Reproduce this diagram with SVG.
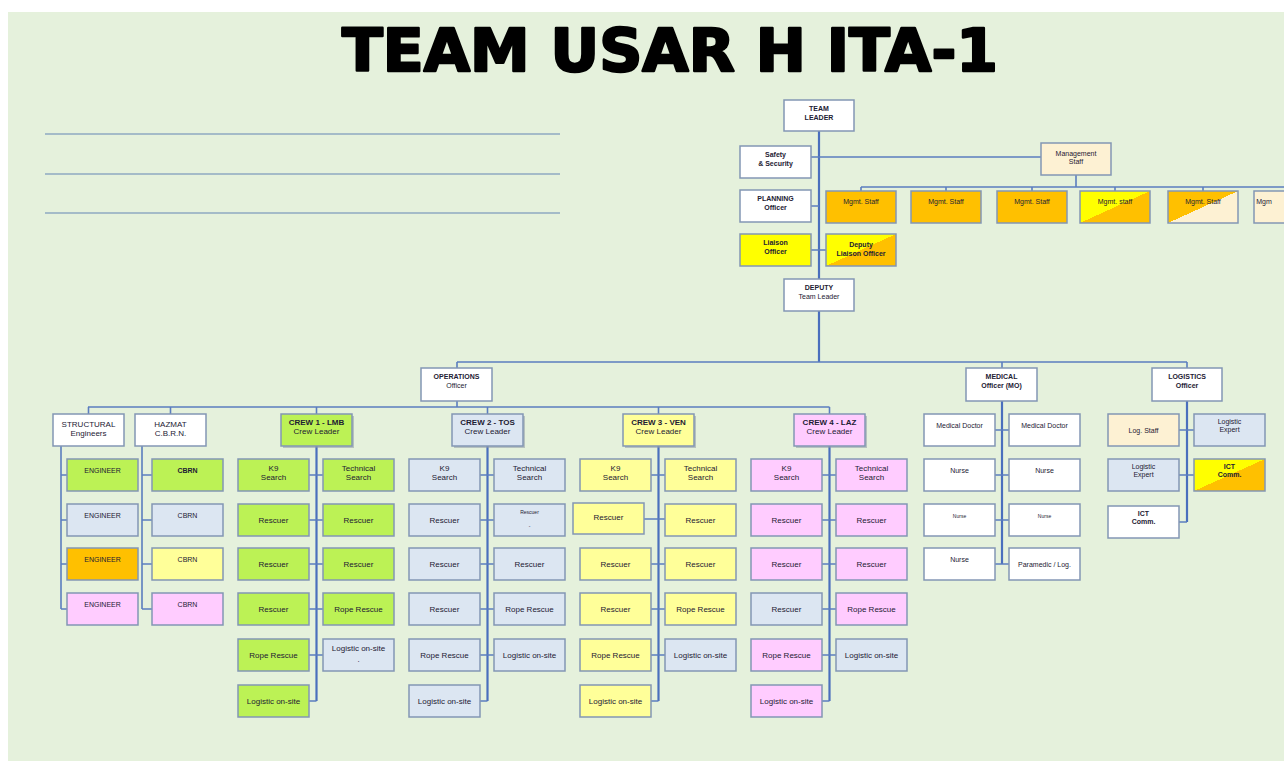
<svg xmlns="http://www.w3.org/2000/svg" width="1284" height="761" viewBox="0 0 1284 761">
  <defs>
    <style>
      .bx { stroke: #8396b4; stroke-width: 1.5; }
      .w { fill: #ffffff; }
      .g { fill: #bcf255; }
      .lb { fill: #dce6f2; }
      .ly { fill: #ffff99; }
      .pk { fill: #ffccff; }
      .or { fill: #ffc000; }
      .ye { fill: #ffff00; }
      .cr { fill: #fdf1d3; }
      .dyo { fill: url(#diagYO); }
      .doc { fill: url(#diagOC); }
      .sh { fill: #8f99a8; opacity: 0.55; }
      text { font-family: "Liberation Sans", Arial, sans-serif; font-size: 8px; fill: #1d2033; text-anchor: middle; }
      .h { font-weight: bold; }
      .s { font-size: 7px; }
      .xs { font-size: 5px; }
      .title { font-family: "DejaVu Sans", "Liberation Sans", sans-serif; font-size: 58px; font-weight: bold; fill: #000; stroke: #000; stroke-width: 2.4; stroke-linejoin: round; text-anchor: middle; }
      .ln { fill: none; stroke: #5b7dbf; stroke-width: 1.6; }
      .tr { fill: none; stroke: #4a6fbd; stroke-width: 2.2; }
      .rule { stroke: #8ea8c2; stroke-width: 1.5; }
    </style>
    <!-- split fills: upper-left colour / lower-right colour along the rising diagonal -->
    <linearGradient id="diagYO" x1="0" y1="0" x2="1" y2="1">
      <stop offset="0.5" stop-color="#ffff00"/>
      <stop offset="0.5" stop-color="#ffc000"/>
    </linearGradient>
    <linearGradient id="diagOC" x1="0" y1="0" x2="1" y2="1">
      <stop offset="0.5" stop-color="#ffc000"/>
      <stop offset="0.5" stop-color="#fdf1d3"/>
    </linearGradient>
  </defs>

  <!-- page -->
  <rect x="0" y="0" width="1284" height="761" fill="#ffffff"/>
  <rect x="8" y="12" width="1276" height="749" fill="#e5f1dc"/>

  <text class="title" x="670" y="71" textLength="656" lengthAdjust="spacingAndGlyphs">TEAM USAR H ITA-1</text>

  <!-- blank ruled lines -->
  <g id="rules">
    <line class="rule" x1="45" y1="134" x2="560" y2="134"/>
    <line class="rule" x1="45" y1="174" x2="560" y2="174"/>
    <line class="rule" x1="45" y1="213" x2="560" y2="213"/>
  </g>

  <!-- connectors -->
  <g id="connectors">
    <!-- command trunk -->
    <path class="tr" d="M819,131 V279 M819,311 V362"/>
    <path class="ln" d="M811,157 H1041 M811,206 H819 M811,250 H826"/>
    <!-- management staff bar -->
    <path class="ln" d="M1076,175 V187 M861,187 H1284 M861,187 V191 M946,187 V191 M1032,187 V191 M1115,187 V191 M1203,187 V191"/>
    <!-- officers bar -->
    <path class="ln" d="M457,362 H1187 M457,362 V368 M1002,362 V368 M1187,362 V368"/>
    <!-- operations bar -->
    <path class="ln" d="M457,401 V407 M88,407 H829.5 M88.5,407 V414 M170.5,407 V414 M316.5,407 V414 M487.5,407 V414 M658.5,407 V414 M829.5,407 V414"/>
    <!-- structural / hazmat -->
    <path class="ln" d="M61,446 V609 M61,475 H67 M61,520 H67 M61,564 H67 M61,609 H67"/>
    <path class="ln" d="M142,446 V609 M142,475 H152 M142,520 H152 M142,564 H152 M142,609 H152"/>
    <!-- crews -->
    <path class="tr" d="M316.5,446 V701 M487.5,446 V701 M658.5,446 V701 M829.5,446 V701"/>
    <path class="ln" d="M309,475 H323 M309,520 H323 M309,564 H323 M309,609 H323 M309,655 H323 M309,701 H316.5"/>
    <path class="ln" d="M480,475 H494 M480,520 H494 M480,564 H494 M480,609 H494 M480,655 H494 M480,701 H487.5"/>
    <path class="ln" d="M644,519 H665 M651,475 H665 M651,564 H665 M651,609 H665 M651,655 H665 M651,701 H658.5"/>
    <path class="ln" d="M822,475 H836 M822,520 H836 M822,564 H836 M822,609 H836 M822,655 H836 M822,701 H829.5"/>
    <!-- medical -->
    <path class="tr" d="M1002,401 V564"/>
    <path class="ln" d="M995,430 H1009 M995,475 H1009 M995,520 H1009 M995,564 H1009"/>
    <!-- logistics -->
    <path class="tr" d="M1187,401 V522"/>
    <path class="ln" d="M1179,430 H1194 M1179,475 H1194 M1179,522 H1187"/>
  </g>

  <!-- command -->
  <g id="team-leader"><rect class="bx w" x="784" y="100" width="70" height="31"/><text class="h s" x="819" y="111">TEAM</text><text class="h s" x="819" y="120">LEADER</text></g>
  <g id="safety"><rect class="bx w" x="740" y="146" width="71" height="32"/><text class="h s" x="775.5" y="157">Safety</text><text class="h s" x="775.5" y="166">&amp; Security</text></g>
  <g id="management-staff"><rect class="bx cr" x="1041" y="143" width="70" height="32"/><text class="s" x="1076" y="156">Management</text><text class="s" x="1076" y="164">Staff</text></g>
  <g id="planning"><rect class="bx w" x="740" y="190" width="71" height="32"/><text class="h s" x="775.5" y="201">PLANNING</text><text class="h s" x="775.5" y="210">Officer</text></g>
  <g id="liaison"><rect class="bx ye" x="740" y="234" width="71" height="32"/><text class="h s" x="775.5" y="245">Liaison</text><text class="h s" x="775.5" y="254">Officer</text></g>
  <g id="deputy-liaison"><rect class="bx dyo" x="826" y="234" width="70" height="32"/><text class="h s" x="861" y="247">Deputy</text><text class="h s" x="861" y="256">Liaison Officer</text></g>
  <g id="deputy-leader"><rect class="bx w" x="784" y="279" width="70" height="32"/><text class="h s" x="819" y="290">DEPUTY</text><text class="s" x="819" y="299">Team Leader</text></g>

  <!-- management staff row -->
  <g id="mgmt-1"><rect class="bx or" x="826" y="191" width="70" height="32"/><text class="s" x="861" y="204">Mgmt. Staff</text></g>
  <g id="mgmt-2"><rect class="bx or" x="911" y="191" width="70" height="32"/><text class="s" x="946" y="204">Mgmt. Staff</text></g>
  <g id="mgmt-3"><rect class="bx or" x="997" y="191" width="70" height="32"/><text class="s" x="1032" y="204">Mgmt. Staff</text></g>
  <g id="mgmt-4"><rect class="bx dyo" x="1080" y="191" width="70" height="32"/><text class="s" x="1115" y="204">Mgmt. staff</text></g>
  <g id="mgmt-5"><rect class="bx doc" x="1168" y="191" width="70" height="32"/><text class="s" x="1203" y="204">Mgmt. Staff</text></g>
  <g id="mgmt-6"><rect class="bx cr" x="1254" y="191" width="70" height="32"/><text class="s" x="1264" y="204" text-anchor="start">Mgm</text></g>

  <!-- officers -->
  <g id="operations"><rect class="bx w" x="421" y="368" width="71" height="33"/><text class="h s" x="456.5" y="379">OPERATIONS</text><text class="s" x="456.5" y="388">Officer</text></g>
  <g id="medical"><rect class="bx w" x="966" y="368" width="71" height="33"/><text class="h s" x="1001.5" y="379">MEDICAL</text><text class="h s" x="1001.5" y="388">Officer (MO)</text></g>
  <g id="logistics"><rect class="bx w" x="1152" y="368" width="70" height="33"/><text class="h s" x="1187" y="379">LOGISTICS</text><text class="h s" x="1187" y="388">Officer</text></g>

  <!-- specialists -->
  <g id="structural"><rect class="bx w" x="53" y="414" width="71" height="32"/><text x="88.5" y="427">STRUCTURAL</text><text x="88.5" y="436">Engineers</text></g>
  <g id="hazmat"><rect class="bx w" x="135" y="414" width="71" height="32"/><text x="170.5" y="427">HAZMAT</text><text x="170.5" y="436">C.B.R.N.</text></g>
  <g id="engineer-1"><rect class="bx g" x="67" y="459" width="71" height="32"/><text class="s" x="102.5" y="473">ENGINEER</text></g>
  <g id="engineer-2"><rect class="bx lb" x="67" y="504" width="71" height="32"/><text class="s" x="102.5" y="518">ENGINEER</text></g>
  <g id="engineer-3"><rect class="bx or" x="67" y="548" width="71" height="32"/><text class="s" x="102.5" y="562">ENGINEER</text></g>
  <g id="engineer-4"><rect class="bx pk" x="67" y="593" width="71" height="32"/><text class="s" x="102.5" y="607">ENGINEER</text></g>
  <g id="cbrn-1"><rect class="bx g" x="152" y="459" width="71" height="32"/><text class="s h" x="187.5" y="473">CBRN</text></g>
  <g id="cbrn-2"><rect class="bx lb" x="152" y="504" width="71" height="32"/><text class="s" x="187.5" y="518">CBRN</text></g>
  <g id="cbrn-3"><rect class="bx ly" x="152" y="548" width="71" height="32"/><text class="s" x="187.5" y="562">CBRN</text></g>
  <g id="cbrn-4"><rect class="bx pk" x="152" y="593" width="71" height="32"/><text class="s" x="187.5" y="607">CBRN</text></g>

  <!-- crew 1 -->
  <g id="crew1-leader"><rect class="sh" x="283" y="416" width="71" height="32"/><rect class="bx g" x="281" y="414" width="71" height="32"/><text class="h" x="316.5" y="425">CREW 1 - LMB</text><text x="316.5" y="434">Crew Leader</text></g>
  <g id="crew1-k9"><rect class="bx g" x="238" y="459" width="71" height="32"/><text x="273.5" y="471">K9</text><text x="273.5" y="480">Search</text></g>
  <g id="crew1-tech"><rect class="bx g" x="323" y="459" width="71" height="32"/><text x="358.5" y="471">Technical</text><text x="358.5" y="480">Search</text></g>
  <g id="crew1-r1"><rect class="bx g" x="238" y="504" width="71" height="32"/><text x="273.5" y="523">Rescuer</text></g>
  <g id="crew1-r2"><rect class="bx g" x="323" y="504" width="71" height="32"/><text x="358.5" y="523">Rescuer</text></g>
  <g id="crew1-r3"><rect class="bx g" x="238" y="548" width="71" height="32"/><text x="273.5" y="567">Rescuer</text></g>
  <g id="crew1-r4"><rect class="bx g" x="323" y="548" width="71" height="32"/><text x="358.5" y="567">Rescuer</text></g>
  <g id="crew1-r5"><rect class="bx g" x="238" y="593" width="71" height="32"/><text x="273.5" y="612">Rescuer</text></g>
  <g id="crew1-rope1"><rect class="bx g" x="323" y="593" width="71" height="32"/><text x="358.5" y="612">Rope Rescue</text></g>
  <g id="crew1-rope2"><rect class="bx g" x="238" y="639" width="71" height="32"/><text x="273.5" y="658">Rope Rescue</text></g>
  <g id="crew1-log1"><rect class="bx lb" x="323" y="639" width="71" height="32"/><text x="358.5" y="651">Logistic on-site</text><text x="358.5" y="662">.</text></g>
  <g id="crew1-log2"><rect class="bx g" x="238" y="685" width="71" height="32"/><text x="273.5" y="704">Logistic on-site</text></g>

  <!-- crew 2 -->
  <g id="crew2-leader"><rect class="sh" x="454" y="416" width="71" height="32"/><rect class="bx lb" x="452" y="414" width="71" height="32"/><text class="h" x="487.5" y="425">CREW 2 - TOS</text><text x="487.5" y="434">Crew Leader</text></g>
  <g id="crew2-k9"><rect class="bx lb" x="409" y="459" width="71" height="32"/><text x="444.5" y="471">K9</text><text x="444.5" y="480">Search</text></g>
  <g id="crew2-tech"><rect class="bx lb" x="494" y="459" width="71" height="32"/><text x="529.5" y="471">Technical</text><text x="529.5" y="480">Search</text></g>
  <g id="crew2-r1"><rect class="bx lb" x="409" y="504" width="71" height="32"/><text x="444.5" y="523">Rescuer</text></g>
  <g id="crew2-r2"><rect class="bx lb" x="494" y="504" width="71" height="32"/><text class="xs" x="529.5" y="514">Rescuer</text><text class="xs" x="529.5" y="528">-</text></g>
  <g id="crew2-r3"><rect class="bx lb" x="409" y="548" width="71" height="32"/><text x="444.5" y="567">Rescuer</text></g>
  <g id="crew2-r4"><rect class="bx lb" x="494" y="548" width="71" height="32"/><text x="529.5" y="567">Rescuer</text></g>
  <g id="crew2-r5"><rect class="bx lb" x="409" y="593" width="71" height="32"/><text x="444.5" y="612">Rescuer</text></g>
  <g id="crew2-rope1"><rect class="bx lb" x="494" y="593" width="71" height="32"/><text x="529.5" y="612">Rope Rescue</text></g>
  <g id="crew2-rope2"><rect class="bx lb" x="409" y="639" width="71" height="32"/><text x="444.5" y="658">Rope Rescue</text></g>
  <g id="crew2-log1"><rect class="bx lb" x="494" y="639" width="71" height="32"/><text x="529.5" y="658">Logistic on-site</text></g>
  <g id="crew2-log2"><rect class="bx lb" x="409" y="685" width="71" height="32"/><text x="444.5" y="704">Logistic on-site</text></g>

  <!-- crew 3 -->
  <g id="crew3-leader"><rect class="sh" x="625" y="416" width="71" height="32"/><rect class="bx ly" x="623" y="414" width="71" height="32"/><text class="h" x="658.5" y="425">CREW 3 - VEN</text><text x="658.5" y="434">Crew Leader</text></g>
  <g id="crew3-k9"><rect class="bx ly" x="580" y="459" width="71" height="32"/><text x="615.5" y="471">K9</text><text x="615.5" y="480">Search</text></g>
  <g id="crew3-tech"><rect class="bx ly" x="665" y="459" width="71" height="32"/><text x="700.5" y="471">Technical</text><text x="700.5" y="480">Search</text></g>
  <g id="crew3-r1"><rect class="bx ly" x="573" y="503" width="71" height="31"/><text x="608.5" y="520">Rescuer</text></g>
  <g id="crew3-r2"><rect class="bx ly" x="665" y="504" width="71" height="32"/><text x="700.5" y="523">Rescuer</text></g>
  <g id="crew3-r3"><rect class="bx ly" x="580" y="548" width="71" height="32"/><text x="615.5" y="567">Rescuer</text></g>
  <g id="crew3-r4"><rect class="bx ly" x="665" y="548" width="71" height="32"/><text x="700.5" y="567">Rescuer</text></g>
  <g id="crew3-r5"><rect class="bx ly" x="580" y="593" width="71" height="32"/><text x="615.5" y="612">Rescuer</text></g>
  <g id="crew3-rope1"><rect class="bx ly" x="665" y="593" width="71" height="32"/><text x="700.5" y="612">Rope Rescue</text></g>
  <g id="crew3-rope2"><rect class="bx ly" x="580" y="639" width="71" height="32"/><text x="615.5" y="658">Rope Rescue</text></g>
  <g id="crew3-log1"><rect class="bx lb" x="665" y="639" width="71" height="32"/><text x="700.5" y="658">Logistic on-site</text></g>
  <g id="crew3-log2"><rect class="bx ly" x="580" y="685" width="71" height="32"/><text x="615.5" y="704">Logistic on-site</text></g>

  <!-- crew 4 -->
  <g id="crew4-leader"><rect class="sh" x="796" y="416" width="71" height="32"/><rect class="bx pk" x="794" y="414" width="71" height="32"/><text class="h" x="829.5" y="425">CREW 4 - LAZ</text><text x="829.5" y="434">Crew Leader</text></g>
  <g id="crew4-k9"><rect class="bx pk" x="751" y="459" width="71" height="32"/><text x="786.5" y="471">K9</text><text x="786.5" y="480">Search</text></g>
  <g id="crew4-tech"><rect class="bx pk" x="836" y="459" width="71" height="32"/><text x="871.5" y="471">Technical</text><text x="871.5" y="480">Search</text></g>
  <g id="crew4-r1"><rect class="bx pk" x="751" y="504" width="71" height="32"/><text x="786.5" y="523">Rescuer</text></g>
  <g id="crew4-r2"><rect class="bx pk" x="836" y="504" width="71" height="32"/><text x="871.5" y="523">Rescuer</text></g>
  <g id="crew4-r3"><rect class="bx pk" x="751" y="548" width="71" height="32"/><text x="786.5" y="567">Rescuer</text></g>
  <g id="crew4-r4"><rect class="bx pk" x="836" y="548" width="71" height="32"/><text x="871.5" y="567">Rescuer</text></g>
  <g id="crew4-r5"><rect class="bx lb" x="751" y="593" width="71" height="32"/><text x="786.5" y="612">Rescuer</text></g>
  <g id="crew4-rope1"><rect class="bx pk" x="836" y="593" width="71" height="32"/><text x="871.5" y="612">Rope Rescue</text></g>
  <g id="crew4-rope2"><rect class="bx pk" x="751" y="639" width="71" height="32"/><text x="786.5" y="658">Rope Rescue</text></g>
  <g id="crew4-log1"><rect class="bx lb" x="836" y="639" width="71" height="32"/><text x="871.5" y="658">Logistic on-site</text></g>
  <g id="crew4-log2"><rect class="bx pk" x="751" y="685" width="71" height="32"/><text x="786.5" y="704">Logistic on-site</text></g>

  <!-- medical team -->
  <g id="doctor-1"><rect class="bx w" x="924" y="414" width="71" height="32"/><text class="s" x="959.5" y="428">Medical Doctor</text></g>
  <g id="doctor-2"><rect class="bx w" x="1009" y="414" width="71" height="32"/><text class="s" x="1044.5" y="428">Medical Doctor</text></g>
  <g id="nurse-1"><rect class="bx w" x="924" y="459" width="71" height="32"/><text class="s" x="959.5" y="473">Nurse</text></g>
  <g id="nurse-2"><rect class="bx w" x="1009" y="459" width="71" height="32"/><text class="s" x="1044.5" y="473">Nurse</text></g>
  <g id="nurse-3"><rect class="bx w" x="924" y="504" width="71" height="32"/><text class="xs" x="959.5" y="518">Nurse</text></g>
  <g id="nurse-4"><rect class="bx w" x="1009" y="504" width="71" height="32"/><text class="xs" x="1044.5" y="518">Nurse</text></g>
  <g id="nurse-5"><rect class="bx w" x="924" y="548" width="71" height="32"/><text class="s" x="959.5" y="562">Nurse</text></g>
  <g id="paramedic"><rect class="bx w" x="1009" y="548" width="71" height="32"/><text class="s" x="1044.5" y="567">Paramedic / Log.</text></g>

  <!-- logistics team -->
  <g id="log-staff"><rect class="bx cr" x="1108" y="414" width="71" height="32"/><text class="s" x="1143.5" y="433">Log. Staff</text></g>
  <g id="log-expert-1"><rect class="bx lb" x="1194" y="414" width="71" height="32"/><text class="s" x="1229.5" y="424">Logistic</text><text class="s" x="1229.5" y="432">Expert</text></g>
  <g id="log-expert-2"><rect class="bx lb" x="1108" y="459" width="71" height="32"/><text class="s" x="1143.5" y="469">Logistic</text><text class="s" x="1143.5" y="477">Expert</text></g>
  <g id="ict-1"><rect class="bx dyo" x="1194" y="459" width="71" height="32"/><text class="h s" x="1229.5" y="469">ICT</text><text class="h s" x="1229.5" y="477">Comm.</text></g>
  <g id="ict-2"><rect class="bx w" x="1108" y="506" width="71" height="32"/><text class="h s" x="1143.5" y="516">ICT</text><text class="h s" x="1143.5" y="524">Comm.</text></g>
</svg>
